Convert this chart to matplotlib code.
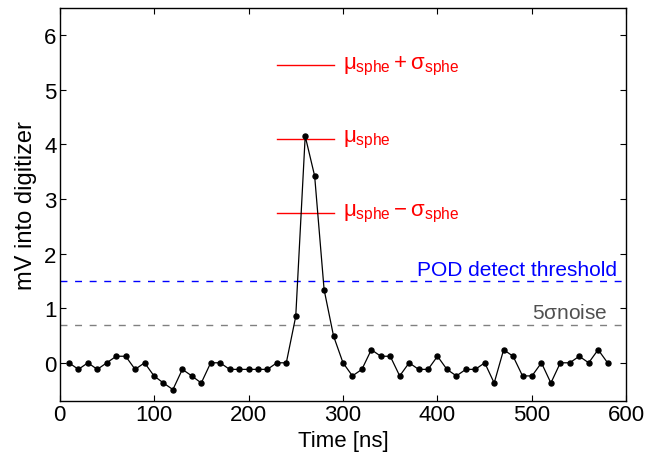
import numpy as np
import matplotlib
matplotlib.use('Agg')
import matplotlib.pyplot as plt

plt.rcParams['font.family'] = ['Liberation Sans', 'DejaVu Sans']
plt.rcParams['mathtext.fontset'] = 'custom'
plt.rcParams['mathtext.rm'] = 'Liberation Sans'
plt.rcParams['mathtext.it'] = 'Liberation Sans'
plt.rcParams['mathtext.bf'] = 'Liberation Sans:bold'

# pulse samples, 10 ns apart (mV into digitizer)
time_ns = np.arange(10, 590, 10)
mv = [0.0, -0.12, 0.0, -0.12, 0.0, 0.12, 0.12, -0.12, 0.0, -0.24,
      -0.37, -0.49, -0.12, -0.24, -0.37, 0.0, 0.0, -0.12, -0.12, -0.12,
      -0.12, -0.12, 0.0, 0.0, 0.85, 4.15, 3.42, 1.34, 0.49, 0.0,
      -0.24, -0.12, 0.24, 0.12, 0.12, -0.24, 0.0, -0.12, -0.12, 0.12,
      -0.12, -0.24, -0.12, -0.12, 0.0, -0.37, 0.24, 0.12, -0.24, -0.24,
      0.0, -0.37, 0.0, 0.0, 0.12, 0.0, 0.24, 0.0]

mu_sphe = 4.1
sigma_sphe = 1.35
sphe_span = [230, 290]
pod_threshold = 1.5
noise_5sigma = 0.7

fig = plt.figure(figsize=(6.49, 4.6), dpi=100)
ax = fig.add_axes([0.0917, 0.126, 0.8736, 0.855])

ax.axhline(pod_threshold, color='blue', lw=1.0, dashes=(5, 5.5))
ax.axhline(noise_5sigma, color='#808080', lw=1.0, dashes=(5, 5.5))
ax.text(590, pod_threshold + 0.04, 'POD detect threshold', color='blue',
        fontsize=15, ha='right', va='bottom')
ax.text(580, noise_5sigma + 0.04, r'5$\sigma$noise', color='#505050',
        fontsize=15, ha='right', va='bottom')

labels = [r'$\mu_{\rm sphe}+\sigma_{\rm sphe}$', r'$\mu_{\rm sphe}$',
          r'$\mu_{\rm sphe}-\sigma_{\rm sphe}$']
for lvl, lab in zip([mu_sphe + sigma_sphe, mu_sphe, mu_sphe - sigma_sphe], labels):
    ax.plot(sphe_span, [lvl, lvl], color='red', lw=1.0)
    ax.text(300, lvl, lab, color='red', fontsize=16, ha='left', va='center')

ax.plot(time_ns, mv, color='black', lw=0.9, marker='o', markersize=3.6)

ax.set_xlim(0, 600)
ax.set_ylim(-0.7, 6.5)
ax.set_xticks(range(0, 601, 100))
ax.set_yticks(range(0, 7))
ax.tick_params(direction='in', top=True, right=True, labelsize=16,
               length=4, width=0.8, pad=2)
for s in ax.spines.values():
    s.set_linewidth(1.0)
ax.set_xlabel('Time [ns]', fontsize=16, labelpad=4)
ax.set_ylabel('mV into digitizer', fontsize=17, labelpad=5)

fig.savefig('out.png', dpi=100)
